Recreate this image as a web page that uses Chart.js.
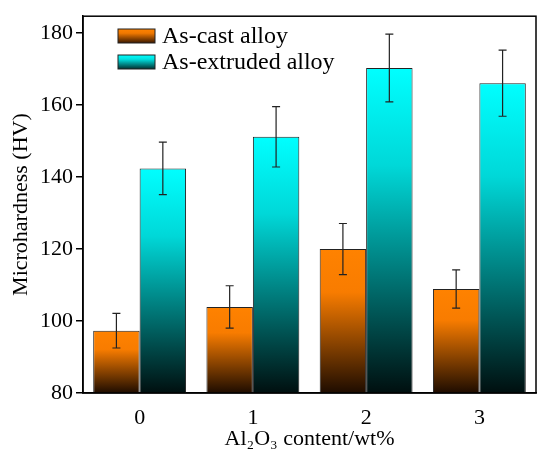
<!DOCTYPE html>
<html>
<head>
<meta charset="utf-8">
<script src="https://cdn.jsdelivr.net/npm/chart.js@4.4.0/dist/chart.umd.min.js"></script>
<style>
  html, body { margin: 0; padding: 0; background: #fff; }
  #wrap { width: 544px; height: 452px; }
</style>
</head>
<body>
<div id="wrap"><canvas id="hvChart" width="544" height="452"></canvas></div>
<script>
// Al2O3 content (wt%)
const categories = ['0', '1', '2', '3'];
const seriesNames = ['As-cast alloy', 'As-extruded alloy'];
// microhardness, HV
const castValues = [97.3, 103.9, 120.0, 108.9];
const castErrors = [4.8, 5.9, 7.1, 5.3];
const extrudedValues = [142.4, 151.2, 170.3, 166.1];
const extrudedErrors = [7.3, 8.4, 9.4, 9.2];
const yTicks = [80, 100, 120, 140, 160, 180];

const FONT = "'Liberation Serif', 'Times New Roman', serif";

const stops = {
  orange: ['#ff8200', '#f87c00', '#1e0c00'],
  cyan: ['#00ffff', '#00d8d8', '#000f0f']
};

function makeGradient(c, top, bottom, cols) {
  const g = c.createLinearGradient(0, top, 0, bottom);
  g.addColorStop(0, cols[0]);
  g.addColorStop(0.3, cols[1]);
  g.addColorStop(1, cols[2]);
  return g;
}

function barFill(cols) {
  return function (ctx) {
    const chart = ctx.chart;
    if (!chart.chartArea || ctx.raw === undefined) return cols[0];
    const y = chart.scales.y;
    return makeGradient(chart.ctx, y.getPixelForValue(ctx.raw), y.getPixelForValue(y.min), cols);
  };
}

// error bars, frame and legend inside the plot
const extras = {
  id: 'extras',
  afterDatasetsDraw(chart) {
    const c = chart.ctx;
    const y = chart.scales.y;
    const errs = [castErrors, extrudedErrors];
    c.save();
    c.strokeStyle = '#222';
    c.lineWidth = 1.2;
    chart.data.datasets.forEach((ds, di) => {
      chart.getDatasetMeta(di).data.forEach((bar, i) => {
        const v = ds.data[i], e = errs[di][i];
        const yt = y.getPixelForValue(v + e), yb = y.getPixelForValue(v - e);
        c.beginPath();
        c.moveTo(bar.x, yt); c.lineTo(bar.x, yb);
        c.moveTo(bar.x - 4, yt); c.lineTo(bar.x + 4, yt);
        c.moveTo(bar.x - 4, yb); c.lineTo(bar.x + 4, yb);
        c.stroke();
      });
    });
    const a = chart.chartArea;
    c.strokeStyle = '#000';
    c.lineWidth = 1.5;
    c.strokeRect(a.left, a.top, a.right - a.left, a.bottom - a.top);

    // legend
    const boxCols = [['#ff8200', '#f07800', '#3a1800'], ['#00ffff', '#00e0e0', '#003030']];
    c.font = '24px ' + FONT;
    c.textBaseline = 'middle';
    seriesNames.forEach((name, k) => {
      const bx = 118, by = 29 + k * 26, bw = 37, bh = 14;
      c.fillStyle = makeGradient(c, by, by + bh, boxCols[k]);
      c.fillRect(bx, by, bw, bh);
      c.strokeStyle = '#222';
      c.lineWidth = 1;
      c.strokeRect(bx, by, bw, bh);
      c.fillStyle = '#000';
      c.fillText(name, 162, by + bh / 2 + 1);
    });
    c.restore();
  }
};

new Chart(document.getElementById('hvChart'), {
  type: 'bar',
  data: {
    labels: categories,
    datasets: [
      { label: seriesNames[0], data: castValues, backgroundColor: barFill(stops.orange),
        borderColor: '#222', borderWidth: 1, borderSkipped: 'bottom' },
      { label: seriesNames[1], data: extrudedValues, backgroundColor: barFill(stops.cyan),
        borderColor: '#222', borderWidth: 1, borderSkipped: 'bottom' }
    ]
  },
  options: {
    responsive: false,
    animation: false,
    datasets: { bar: { categoryPercentage: 0.82, barPercentage: 1.0 } },
    layout: { padding: { top: 12, right: 8, left: 0, bottom: 0 } },
    plugins: {
      legend: { display: false },
      tooltip: { enabled: false }
    },
    scales: {
      x: {
        grid: { display: false },
        border: { display: true, color: '#000', width: 1.5 },
        ticks: { color: '#000', font: { family: FONT, size: 22 }, padding: 4 },
        title: { display: true, text: 'Al₂O₃ content/wt%', color: '#000',
                 font: { family: FONT, size: 22 }, padding: { top: 0, bottom: 0 } },
        afterFit(s) { s.height = 59; }
      },
      y: {
        min: 80,
        max: 184.7,
        grid: { drawOnChartArea: false, drawTicks: true, tickLength: 7, color: '#000', lineWidth: 1.5 },
        border: { display: true, color: '#000', width: 1.5 },
        ticks: { stepSize: 20, color: '#000', font: { family: FONT, size: 22 }, padding: 3 },
        afterBuildTicks(s) { s.ticks = yTicks.map(v => ({ value: v })); },
        title: { display: true, text: 'Microhardness (HV)', color: '#000',
                 font: { family: FONT, size: 22 }, padding: { top: 8, bottom: 4 } },
        afterFit(s) { s.width = 83; }
      }
    }
  },
  plugins: [extras]
});
</script>
</body>
</html>
